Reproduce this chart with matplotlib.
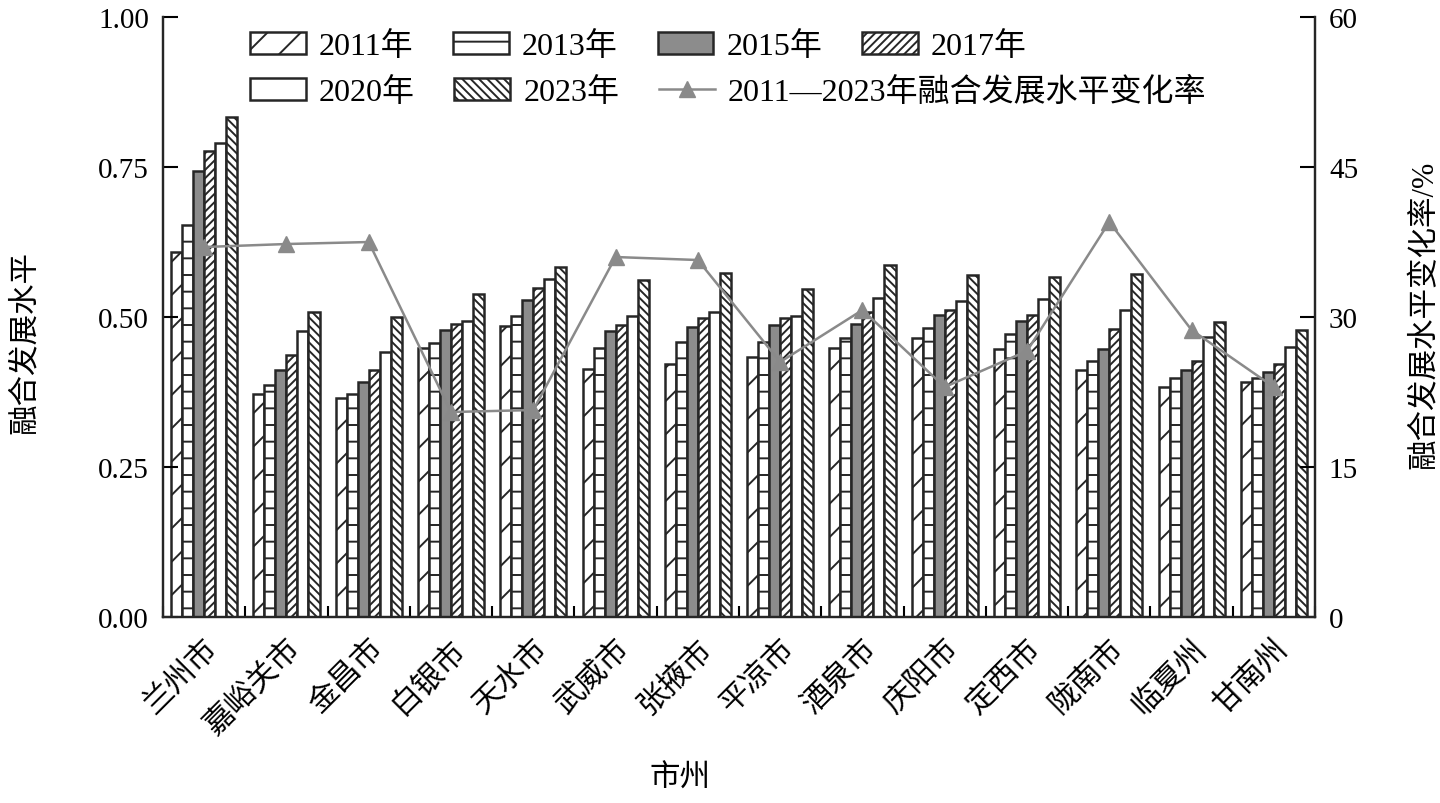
import numpy as np
import matplotlib
matplotlib.use('Agg')
import matplotlib.pyplot as plt

plt.rcParams['font.family'] = ['Liberation Serif', 'Noto Sans CJK SC']
plt.rcParams['hatch.linewidth'] = 1.4

cities = ['兰州市', '嘉峪关市', '金昌市', '白银市', '天水市', '武威市', '张掖市',
          '平凉市', '酒泉市', '庆阳市', '定西市', '陇南市', '临夏州', '甘南州']
years = ['2011年', '2013年', '2015年', '2017年', '2020年', '2023年']

v2011 = [0.609, 0.371, 0.365, 0.448, 0.485, 0.414, 0.422, 0.434, 0.448, 0.465, 0.447, 0.412, 0.383, 0.391]
v2013 = [0.653, 0.386, 0.371, 0.456, 0.502, 0.449, 0.459, 0.458, 0.465, 0.481, 0.472, 0.426, 0.398, 0.399]
v2015 = [0.743, 0.411, 0.392, 0.478, 0.528, 0.476, 0.483, 0.487, 0.488, 0.504, 0.493, 0.447, 0.412, 0.409]
v2017 = [0.776, 0.437, 0.412, 0.489, 0.549, 0.486, 0.498, 0.498, 0.508, 0.512, 0.503, 0.480, 0.426, 0.421]
v2020 = [0.790, 0.476, 0.442, 0.493, 0.563, 0.502, 0.509, 0.502, 0.532, 0.526, 0.530, 0.512, 0.467, 0.450]
v2023 = [0.834, 0.509, 0.500, 0.538, 0.584, 0.562, 0.574, 0.546, 0.587, 0.570, 0.567, 0.571, 0.492, 0.478]
rate = [37.0, 37.3, 37.5, 20.5, 20.7, 36.0, 35.7, 25.5, 30.7, 23.0, 26.6, 39.5, 28.7, 23.0]

series = [v2011, v2013, v2015, v2017, v2020, v2023]
fills = ['white', 'white', '#8c8c8c', 'white', 'white', 'white']
hatches = ['/', '-', '', '////', '', '\\\\\\\\']
edge = '#262626'

fig = plt.figure(figsize=(14.4, 8.04), dpi=100)
ax = fig.add_axes([0.1132, 0.2313, 0.8, 0.7463])
ax2 = ax.twinx()

x = np.arange(len(cities))
w = 0.134
handles = []
for k, vals in enumerate(series):
    b = ax.bar(x + (k - 2.5) * w, vals, w, color=fills[k], edgecolor=edge,
               hatch=hatches[k], linewidth=1.8, label=years[k])
    handles.append(b)

ln, = ax2.plot(x, rate, color='#8a8a8a', lw=1.8, marker='^', ms=12,
               label='2011—2023年融合发展水平变化率')

ax.set_xlim(-0.5, len(cities) - 0.5)
ax.set_ylim(0, 1.0)
ax2.set_ylim(0, 60)
ax.set_yticks([0, 0.25, 0.5, 0.75, 1.0])
ax.set_yticklabels(['%.2f' % t for t in [0, 0.25, 0.5, 0.75, 1.0]])
ax2.set_yticks([0, 15, 30, 45, 60])

ax.set_xticks(x)
ax.set_xticklabels(cities, rotation=45, ha='right', rotation_mode='anchor', fontsize=22)
ax.set_xticks(np.arange(len(cities) + 1) - 0.5, minor=True)
ax.tick_params(axis='x', which='major', length=0, pad=12)
ax.tick_params(axis='x', which='minor', direction='in', length=8, width=1.5)
ax.tick_params(axis='y', direction='in', length=11, width=1.5, labelsize=21, pad=10)
ax2.tick_params(axis='y', direction='in', length=11, width=1.5, labelsize=21, pad=10)

for a in (ax, ax2):
    a.spines['top'].set_visible(False)
    for s in ('left', 'right', 'bottom'):
        a.spines[s].set_linewidth(1.6)
        a.spines[s].set_color(edge)

ax.set_ylabel('融合发展水平', fontsize=22)
ax.yaxis.set_label_coords(-0.107, 0.46)
ax2.set_ylabel('融合发展水平变化率/%', fontsize=22)
ax2.yaxis.set_label_coords(1.0825, 0.505)
ax.set_xlabel('市州', fontsize=22)
ax.xaxis.set_label_coords(0.449, -0.245)

leg_kw = dict(frameon=False, fontsize=23, handlelength=1.75, handleheight=0.72,
              handletextpad=0.4, columnspacing=1.25, borderaxespad=0, borderpad=0,
              loc='upper left')
leg1 = fig.legend(handles[:4], years[:4], ncol=4, bbox_to_anchor=(0.1735, 0.96), **leg_kw)
leg2 = fig.legend([handles[4], handles[5], ln], [years[4], years[5], ln.get_label()],
                  ncol=3, bbox_to_anchor=(0.1735, 0.903), **leg_kw)

fig.savefig('out.png', dpi=100)
